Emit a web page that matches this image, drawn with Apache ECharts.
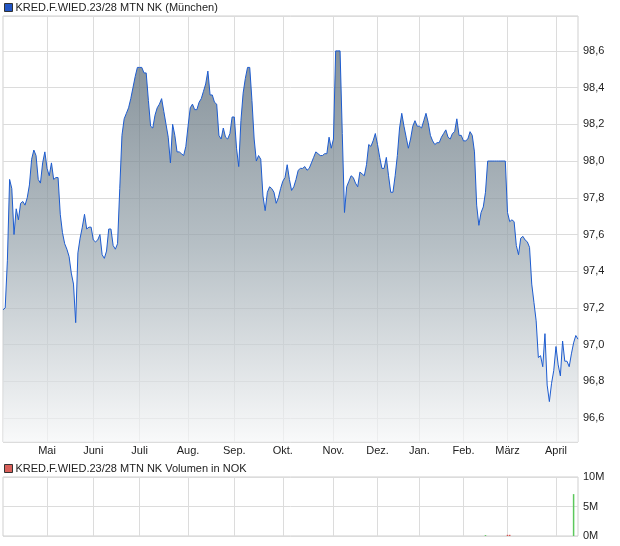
<!DOCTYPE html>
<html>
<head>
<meta charset="utf-8">
<script src="https://cdn.jsdelivr.net/npm/echarts@6/dist/echarts.min.js"></script>
<style>
html,body{margin:0;padding:0;background:#fff;}
#chart{width:620px;height:546px;}
</style>
</head>
<body>
<div id="chart"></div>
<script>
// ---- data ----
const priceName = 'KRED.F.WIED.23/28 MTN NK (München)';
const volumeName = 'KRED.F.WIED.23/28 MTN NK Volumen in NOK';
const monthNames = ['Mai','Juni','Juli','Aug.','Sep.','Okt.','Nov.','Dez.','Jan.','Feb.','März','April'];
const monthStartIdx = [20, 41, 62, 84, 105, 127, 150, 170, 189, 209, 229, 251];
const prices = [
97.19,97.20,97.46,97.90,97.85,97.60,97.74,97.68,97.77,97.78,
97.76,97.80,97.87,98.01,98.06,98.03,97.90,97.88,97.99,98.05,
97.96,97.92,97.99,97.90,97.91,97.91,97.71,97.61,97.55,97.52,
97.48,97.39,97.33,97.12,97.50,97.58,97.64,97.71,97.63,97.64,
97.64,97.57,97.56,97.57,97.60,97.49,97.47,97.51,97.63,97.63,
97.54,97.52,97.55,97.85,98.14,98.23,98.26,98.29,98.34,98.40,
98.46,98.51,98.51,98.51,98.48,98.48,98.33,98.19,98.18,98.25,
98.29,98.31,98.34,98.27,98.20,98.13,97.99,98.20,98.14,98.05,
98.05,98.04,98.03,98.08,98.19,98.29,98.31,98.28,98.28,98.32,
98.34,98.38,98.42,98.49,98.36,98.36,98.32,98.31,98.14,98.12,
98.18,98.13,98.12,98.15,98.24,98.24,98.07,97.97,98.22,98.37,
98.45,98.51,98.51,98.33,98.12,98.00,98.03,98.01,97.81,97.73,
97.83,97.86,97.85,97.83,97.77,97.80,97.85,97.89,97.91,97.98,
97.90,97.84,97.86,97.90,97.95,97.96,97.96,97.97,97.95,97.96,
97.99,98.02,98.05,98.04,98.03,98.03,98.04,98.04,98.13,98.07,
98.12,98.60,98.60,98.60,98.15,97.72,97.86,97.89,97.92,97.91,
97.88,97.86,97.94,97.93,97.92,97.98,98.09,98.08,98.11,98.15,
98.09,98.02,97.96,97.96,98.02,97.92,97.83,97.83,97.92,98.03,
98.18,98.26,98.19,98.13,98.07,98.12,98.19,98.22,98.19,98.19,
98.18,98.22,98.26,98.21,98.14,98.11,98.09,98.10,98.10,98.13,
98.15,98.17,98.13,98.12,98.15,98.16,98.23,98.14,98.14,98.11,
98.11,98.12,98.16,98.14,98.05,97.76,97.65,97.72,97.75,97.83,
98.00,98.00,98.00,98.00,98.00,98.00,98.00,98.00,98.00,97.72,
97.67,97.68,97.67,97.54,97.49,97.58,97.59,97.57,97.56,97.53,
97.33,97.23,97.13,96.93,96.94,96.88,97.06,96.78,96.69,96.79,
96.86,96.99,96.89,96.83,97.02,96.91,96.91,96.88,96.95,97.01,
97.05,97.03
];
const volumeDays = [219, 229, 230, 259];
const volumeValues = [0.15, 0.2, 0.2, 7.1]; // in millions
const volumeTicks = [0, 5, 10];

// ---- build ----
const categories = prices.map((_, i) => String(i));
const isMonthStart = (idx) => monthStartIdx.indexOf(idx) >= 0;
const volumeData = volumeDays.map((d, k) => ({
  value: [d, volumeValues[k]],
  itemStyle: { color: (d > 0 && prices[d] < prices[d - 1]) ? '#d9534f' : '#5cc85c' }
}));

const FONT = '"Liberation Sans", Arial, sans-serif';
const chart = echarts.init(document.getElementById('chart'), null, { renderer: 'canvas' });
chart.setOption({
  animation: false,
  backgroundColor: '#ffffff',
  textStyle: { fontFamily: FONT },
  legend: [
    {
      left: 4, top: 2, padding: 0, itemWidth: 8, itemHeight: 8, itemGap: 10,
      selectedMode: false,
      textStyle: { fontSize: 11, color: '#222', fontFamily: FONT, padding: [0,0,0,-2] },
      data: [{ name: priceName, icon: 'rect', itemStyle: { color: '#2255c4', borderColor: '#333', borderWidth: 1 } }]
    },
    {
      left: 4, top: 463, padding: 0, itemWidth: 8, itemHeight: 8,
      selectedMode: false,
      textStyle: { fontSize: 11, color: '#222', fontFamily: FONT, padding: [0,0,0,-2] },
      data: [{ name: volumeName, icon: 'rect', itemStyle: { color: '#d9605a', borderColor: '#333', borderWidth: 1 } }]
    }
  ],
  grid: [
    { left: 3, right: 42, top: 16, bottom: 104, show: true, borderColor: '#cfcfcf', borderWidth: 1, backgroundColor: '#fff' },
    { left: 3, right: 42, top: 477, bottom: 10, show: true, borderColor: '#cfcfcf', borderWidth: 1, backgroundColor: '#fff' }
  ],
  xAxis: [
    {
      type: 'category', gridIndex: 0, data: categories, boundaryGap: false,
      axisLine: { show: false }, axisTick: { show: false },
      axisLabel: {
        interval: (idx) => isMonthStart(idx),
        formatter: (v, idx) => monthNames[monthStartIdx.indexOf(Number(v))] || '',
        fontSize: 11, color: '#222', margin: 3, fontFamily: FONT
      },
      splitLine: { show: true, interval: (idx) => isMonthStart(idx), lineStyle: { color: '#dcdcdc', width: 1 } }
    },
    {
      type: 'category', gridIndex: 1, data: categories, boundaryGap: false,
      axisLine: { show: false }, axisTick: { show: false }, axisLabel: { show: false },
      splitLine: { show: true, interval: (idx) => isMonthStart(idx), lineStyle: { color: '#dcdcdc', width: 1 } }
    }
  ],
  yAxis: [
    {
      type: 'value', gridIndex: 0, position: 'right', min: 96.47, max: 98.79,
      splitNumber: 11, minInterval: 0.2, maxInterval: 0.2, scale: true,
      axisLine: { show: false }, axisTick: { show: false },
      axisLabel: {
        showMinLabel: false, showMaxLabel: false, margin: 5, fontSize: 11, color: '#222', fontFamily: FONT,
        formatter: (v) => v.toFixed(1).replace('.', ',')
      },
      splitLine: { show: true, lineStyle: { color: '#dcdcdc', width: 1 } }
    },
    {
      type: 'value', gridIndex: 1, position: 'right', min: volumeTicks[0], max: volumeTicks[2], interval: volumeTicks[1],
      axisLine: { show: false }, axisTick: { show: false },
      axisLabel: { margin: 5, fontSize: 11, color: '#222', fontFamily: FONT, formatter: (v) => v + 'M' },
      splitLine: { show: true, lineStyle: { color: '#dcdcdc', width: 1 } }
    }
  ],
  series: [
    {
      name: priceName, type: 'line', xAxisIndex: 0, yAxisIndex: 0,
      data: prices, showSymbol: false, symbol: 'none', step: false,
      lineStyle: { color: '#1d5cd0', width: 1 },
      itemStyle: { color: '#2255c4' },
      areaStyle: {
        color: new echarts.graphic.LinearGradient(0, 0, 0, 1, [
          { offset: 0, color: '#52636f' },
          { offset: 0.5, color: '#98a5ad' },
          { offset: 1, color: '#f6f7f8' }
        ])
      }
    },
    {
      name: volumeName, type: 'bar', xAxisIndex: 1, yAxisIndex: 1,
      data: volumeData, barWidth: 1.5,
      itemStyle: { color: '#d9605a' }
    }
  ]
});
</script>
</body>
</html>
